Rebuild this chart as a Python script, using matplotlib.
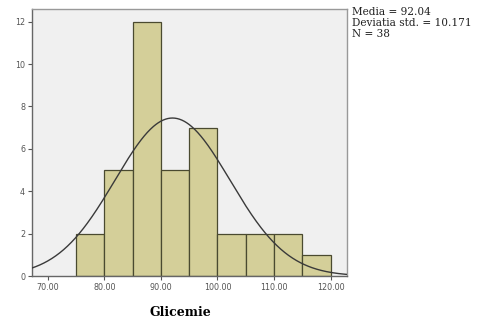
import numpy as np
import matplotlib
matplotlib.use("Agg")
import matplotlib.pyplot as plt

bin_edges = [75, 80, 85, 90, 95, 100, 105, 110, 115, 120]
counts = [2, 5, 12, 5, 7, 2, 2, 2, 1]
mean = 92.04
std = 10.171
n = 38
xticks = [70, 80, 90, 100, 110, 120]
yticks = [0, 2, 4, 6, 8, 10, 12]

W, H = 487, 322
fig = plt.figure(figsize=(W / 100, H / 100), dpi=100)
ax = fig.add_axes([32 / W, 1 - 276 / H, (347 - 32) / W, (276 - 8.7) / H])
ax.set_facecolor("#F0F0F0")

left = bin_edges[:-1]
widths = np.diff(bin_edges)
ax.bar(left, counts, width=widths, align="edge", color="#D4CF99",
       edgecolor="#4A4A30", linewidth=0.9, zorder=2)

xs = np.linspace(67.2, 122.9, 400)
binw = bin_edges[1] - bin_edges[0]
ys = n * binw * np.exp(-0.5 * ((xs - mean) / std) ** 2) / (std * np.sqrt(2 * np.pi))
ax.plot(xs, ys, color="#3A3A3A", linewidth=1.0, zorder=3)

ax.set_xlim(67.2, 122.9)
ax.set_ylim(0, 12.61)
ax.set_xticks(xticks)
ax.set_xticklabels([f"{v:.2f}" for v in xticks])
ax.set_yticks(yticks)
ax.tick_params(axis="both", labelsize=5.8, colors="#555555", length=3, width=0.8,
               pad=2)
for s in ax.spines.values():
    s.set_color("#999999")
    s.set_linewidth(1.0)
ax.spines["left"].set_color("#666666")
ax.spines["bottom"].set_color("#666666")

fig.text(180 / W, 1 - 313 / H, "Glicemie", ha="center", va="center",
         fontsize=9, fontweight="bold", family="DejaVu Serif")

stats = [f"Media = {mean:.2f}", f"Deviatia std. = {std:.3f}", f"N = {n}"]
for i, t in enumerate(stats):
    fig.text(352 / W, 1 - (12 + 11 * i) / H, t, ha="left", va="center",
             fontsize=7.6, family="DejaVu Serif", color="#222222")

fig.savefig("out.png", dpi=100)
